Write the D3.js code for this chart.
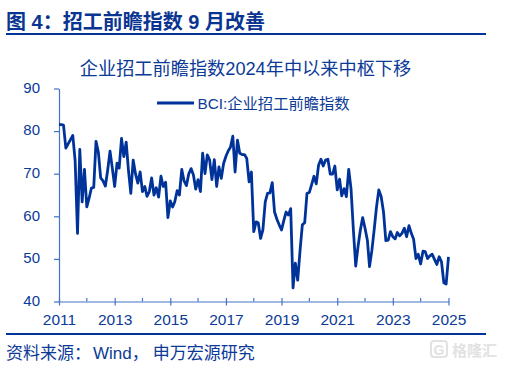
<!DOCTYPE html>
<html>
<head>
<meta charset="utf-8">
<script src="https://cdn.jsdelivr.net/npm/d3@7"></script>
<style>
    html, body { margin: 0; padding: 0; background: #fff; }
    text { font-family: "Liberation Sans", "Noto Sans CJK SC", sans-serif; fill: #0b3a97; }
</style>
</head>
<body>
<div id="chart"></div>
<script>
    // BCI monthly readings from Jan 2011
    const bciValues = [
        81.5, 81.5, 81.4, 76, 77, 78, 79, 73, 56, 75.7, 63.4, 71,
        62.2, 64.3, 66.6, 66.8, 77.6, 75, 69, 68.3, 67.1, 70.8, 75.3, 71.3,
        67, 72.5, 71.3, 78.3, 74, 77.4, 70.8, 65.4, 73.2, 70, 67.8, 70.4,
        65.8, 67, 64.7, 65.8, 69, 65, 66.7, 64.5, 69.4, 67, 68, 59.7,
        63.6, 62.2, 63.4, 66, 65, 71, 68.3, 67.2, 70, 71.2, 69.7, 66.4,
        68.6, 65.8, 74.8, 70, 74.4, 73.2, 68.6, 73.3, 67, 71.6, 68.9, 72.4,
        74.1, 75.4, 76.2, 78.8, 70.4, 77.9, 74.8, 74.5, 74.5, 73.6, 68.1, 70.4,
        56.4, 58.7, 58.5, 54.8, 56.8, 63.4, 65.4, 65.5, 67.9, 61, 59.3, 58,
        56.8, 59.1, 61, 60.3, 61.8, 43.2, 49, 45, 52, 58, 58.5, 65.4,
        65.6, 67.5, 69.4, 67.6, 72, 73.4, 71.8, 73.2, 73.4, 69.9, 69.9, 71.8,
        66.2, 68.7, 64.8, 66.5, 64.6, 71, 66.5, 56.8, 48.3, 52.9, 56.8, 59.7,
        57.2, 54.4, 48.2, 52, 56.8, 62.2, 66.2, 64.6, 61, 54.3, 54.4, 56.4,
        55.2, 54.7, 56.2, 55.4, 56, 57.2, 55.2, 57.8, 56, 54.6, 50.1, 51.1,
        48.8, 51.8, 51.7, 50.1, 50.7, 51.1, 49.9, 48.7, 50.5, 49.3, 44.4, 44.1,
        50.5
    ];
    const yTicks = [40, 50, 60, 70, 80, 90];
    const xLabelYears = [2011, 2013, 2015, 2017, 2019, 2021, 2023, 2025];
    const xMinorYears = [2012, 2014, 2016, 2018, 2020, 2022, 2024];
    const seriesName = "BCI:企业招工前瞻指数";

    const width = 505, height = 367;
    const blue = "#003399";
    const axisBlue = "#4472c4";

    const svg = d3.select("#chart")
        .append("svg")
        .attr("width", width)
        .attr("height", height)
        .style("display", "block");

    const months = bciValues.map((d, i) => new Date(2011, i, 1));

    const x = d3.scaleTime()
        .domain([new Date(2011, 0, 1), new Date(2025, 0, 1)])
        .range([59, 448.5]);
    const y = d3.scaleLinear()
        .domain([40, 90])
        .range([301.5, 88.5]);

    // header and footer
    svg.append("text")
        .attr("x", 6).attr("y", 28.5)
        .attr("font-size", 20).attr("font-weight", 700)
        .style("fill", "#0a3491")
        .text("图 4：招工前瞻指数 9 月改善");
    svg.append("rect").attr("x", 6).attr("y", 33).attr("width", 480).attr("height", 2).attr("fill", blue);
    svg.append("rect").attr("x", 6).attr("y", 333).attr("width", 480).attr("height", 2).attr("fill", blue);
    const source = svg.append("text")
        .attr("x", 6).attr("y", 359)
        .attr("font-size", 17);
    source.append("tspan").text("资料来源：");
    source.append("tspan").attr("dx", 2).text("Wind，");
    source.append("tspan").attr("dx", 4).text("申万宏源研究");

    svg.append("text")
        .attr("x", 245.5).attr("y", 74.5)
        .attr("text-anchor", "middle")
        .attr("font-size", 18.2)
        .text("企业招工前瞻指数2024年中以来中枢下移");

    // axes
    const gy = svg.append("g")
        .attr("transform", "translate(59,0)")
        .call(d3.axisLeft(y).tickValues(yTicks).tickSize(5).tickPadding(14).tickSizeOuter(0));
    gy.selectAll("text").attr("font-size", 15).attr("font-family", "Liberation Sans").attr("y", -1);
    gy.selectAll("line, path").attr("stroke", axisBlue).attr("stroke-width", 1.2);

    const gx = svg.append("g")
        .attr("transform", "translate(0,301.5)")
        .call(d3.axisBottom(x)
            .tickValues(xLabelYears.map(yr => new Date(yr, 0, 1)))
            .tickSize(4).tickPadding(8).tickSizeOuter(0)
            .tickFormat(d3.timeFormat("%Y")));
    gx.selectAll("text").attr("font-size", 15.5).attr("font-family", "Liberation Sans");
    gx.selectAll("line, path").attr("stroke", axisBlue).attr("stroke-width", 1.2);
    gx.selectAll("line").attr("y1", -3.5);

    gx.selectAll(".minor")
        .data(xMinorYears)
        .enter()
        .append("line")
        .attr("class", "minor")
        .attr("x1", d => x(new Date(d, 0, 1)))
        .attr("x2", d => x(new Date(d, 0, 1)))
        .attr("y1", -3.5)
        .attr("y2", 0)
        .attr("stroke", axisBlue)
        .attr("stroke-width", 1.2);

    // series
    const line = d3.line()
        .x((d, i) => x(months[i]))
        .y(d => y(d));

    svg.append("path")
        .datum(bciValues)
        .attr("fill", "none")
        .attr("stroke", blue)
        .attr("stroke-width", 2.8)
        .attr("stroke-linejoin", "round")
        .attr("d", line);

    // legend
    svg.append("line")
        .attr("x1", 157).attr("x2", 194)
        .attr("y1", 103).attr("y2", 103)
        .attr("stroke", blue)
        .attr("stroke-width", 2.8);
    svg.append("text")
        .attr("x", 197.5).attr("y", 108.5)
        .attr("font-size", 15.3)
        .text(seriesName);

    // watermark
    const mark = svg.append("g");
    mark.append("rect")
        .attr("x", 431).attr("y", 341).attr("width", 16).attr("height", 16).attr("rx", 3)
        .attr("fill", "none").attr("stroke", "#e2e2e2").attr("stroke-width", 2);
    mark.append("text")
        .attr("x", 439).attr("y", 354.5)
        .attr("text-anchor", "middle")
        .attr("font-size", 14).attr("font-weight", 700)
        .style("fill", "#e2e2e2")
        .text("G");
    mark.append("text")
        .attr("x", 452).attr("y", 355.5)
        .attr("font-size", 15).attr("font-weight", 700)
        .style("fill", "#e2e2e2")
        .text("格隆汇");
</script>
</body>
</html>
